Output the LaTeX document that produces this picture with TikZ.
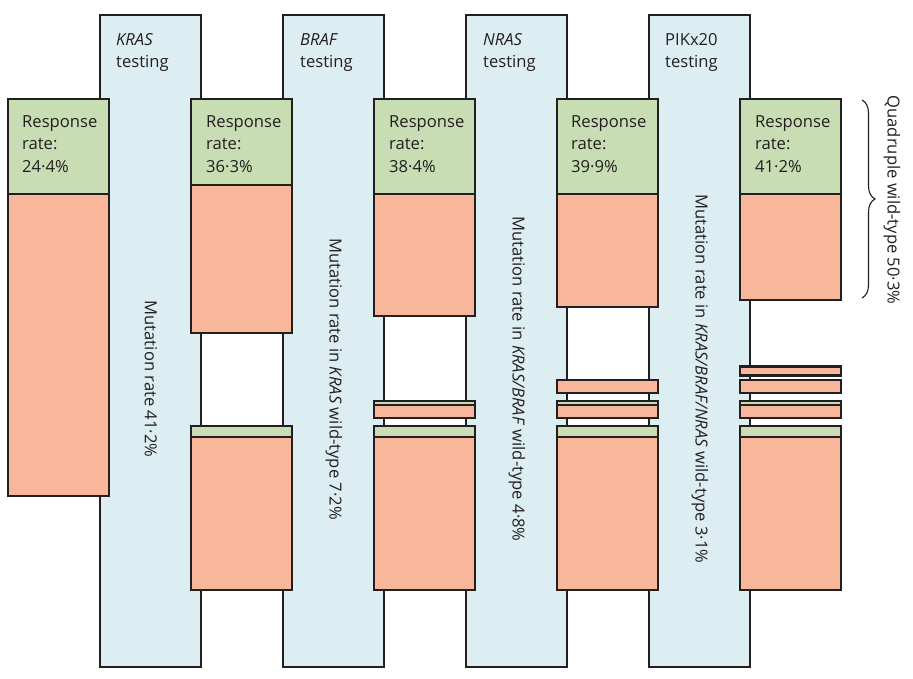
\documentclass[tikz,border=0pt]{standalone}
\usepackage{fontspec}
\setmainfont{Open Sans}
\usetikzlibrary{decorations.pathreplacing}
\definecolor{ink}{HTML}{231F20}
\definecolor{colbg}{HTML}{DDEEF3}
\definecolor{respc}{HTML}{C8DDB3}
\definecolor{mutc}{HTML}{F8B69B}
\newcommand\respbox[4]{\draw[respfill] (#1,#3) rectangle (#2,#4);}
\newcommand\mutbox[4]{\draw[mutfill] (#1,#3) rectangle (#2,#4);}
\begin{document}
\begin{tikzpicture}[x=1pt,y=-1pt,
  every node/.style={text=ink, font=\fontsize{16.6}{22.5}\selectfont},
  lane/.style={fill=colbg, draw=ink, line width=2.6pt},
  respfill/.style={fill=respc, draw=ink, line width=2.6pt},
  mutfill/.style={fill=mutc, draw=ink, line width=2.6pt},
  lbl/.style={align=left, anchor=north west, inner sep=0pt},
  vlbl/.style={rotate=-90, inner sep=0pt, anchor=center}]
\useasboundingbox[fill=white] (0,0) rectangle (913,679);
% lanes
\draw[lane] (100,15) rectangle (201,667);
\draw[lane] (283,15) rectangle (384,667);
\draw[lane] (466,15) rectangle (567,667);
\draw[lane] (649,15) rectangle (750,667);
% stack 1
\respbox{8}{109}{99}{194}
\mutbox{8}{109}{194}{496}
% stack 2
\respbox{191}{292}{99}{185}
\mutbox{191}{292}{185}{333}
\respbox{191}{292}{426}{437}
\mutbox{191}{292}{437}{590}
% stack 3
\respbox{374}{475}{99}{194}
\mutbox{374}{475}{194}{316}
\respbox{374}{475}{401}{405}
\mutbox{374}{475}{405}{418}
\respbox{374}{475}{426}{437}
\mutbox{374}{475}{437}{590}
% stack 4
\respbox{557}{658}{99}{194}
\mutbox{557}{658}{194}{307}
\mutbox{557}{658}{380}{393}
\respbox{557}{658}{401}{405}
\mutbox{557}{658}{405}{418}
\respbox{557}{658}{426}{437}
\mutbox{557}{658}{437}{590}
% stack 5
\respbox{740}{841}{99}{194}
\mutbox{740}{841}{194}{300}
\mutbox{740}{841}{366.5}{375.5}
\mutbox{740}{841}{380}{393}
\respbox{740}{841}{401}{405}
\mutbox{740}{841}{405}{418}
\respbox{740}{841}{426}{437}
\mutbox{740}{841}{437}{590}
% headers
\node[lbl] (h1) at (116,33) {\textit{KRAS}\\testing};
\node[lbl] (h2) at (300,33) {\textit{BRAF}\\testing};
\node[lbl] (h3) at (483,33) {\textit{NRAS}\\testing};
\node[lbl] (h4) at (665,33) {PIKx20\\testing};
% response labels
\node[lbl] (r1) at (22,115) {Response\\rate:\\24·4\%};
\node[lbl] (r2) at (206,115) {Response\\rate:\\36·3\%};
\node[lbl] (r3) at (389,115) {Response\\rate:\\38·4\%};
\node[lbl] (r4) at (571,115) {Response\\rate:\\39·9\%};
\node[lbl] (r5) at (755,115) {Response\\rate:\\41·2\%};
% vertical labels
\node[vlbl] (m1) at (151,379) {Mutation rate 41·2\%};
\node[vlbl] (m2) at (334,379) {Mutation rate in \textit{KRAS} wild-type 7·2\%};
\node[vlbl] (m3) at (517,379) {Mutation rate in \textit{KRAS/BRAF} wild-type 4·8\%};
\node[vlbl] (m4) at (700,379) {Mutation rate in \textit{KRAS/BRAF/NRAS} wild-type 3·1\%};
% brace
\coordinate (bt) at (862,100);
\coordinate (bb) at (862,298);
\draw[ink, line width=1.1pt, decorate, decoration={brace, amplitude=13pt}] (bt) -- (bb);
\node[vlbl] (q) at (892,200) {Quadruple wild-type 50·3\%};
\end{tikzpicture}
\end{document}
